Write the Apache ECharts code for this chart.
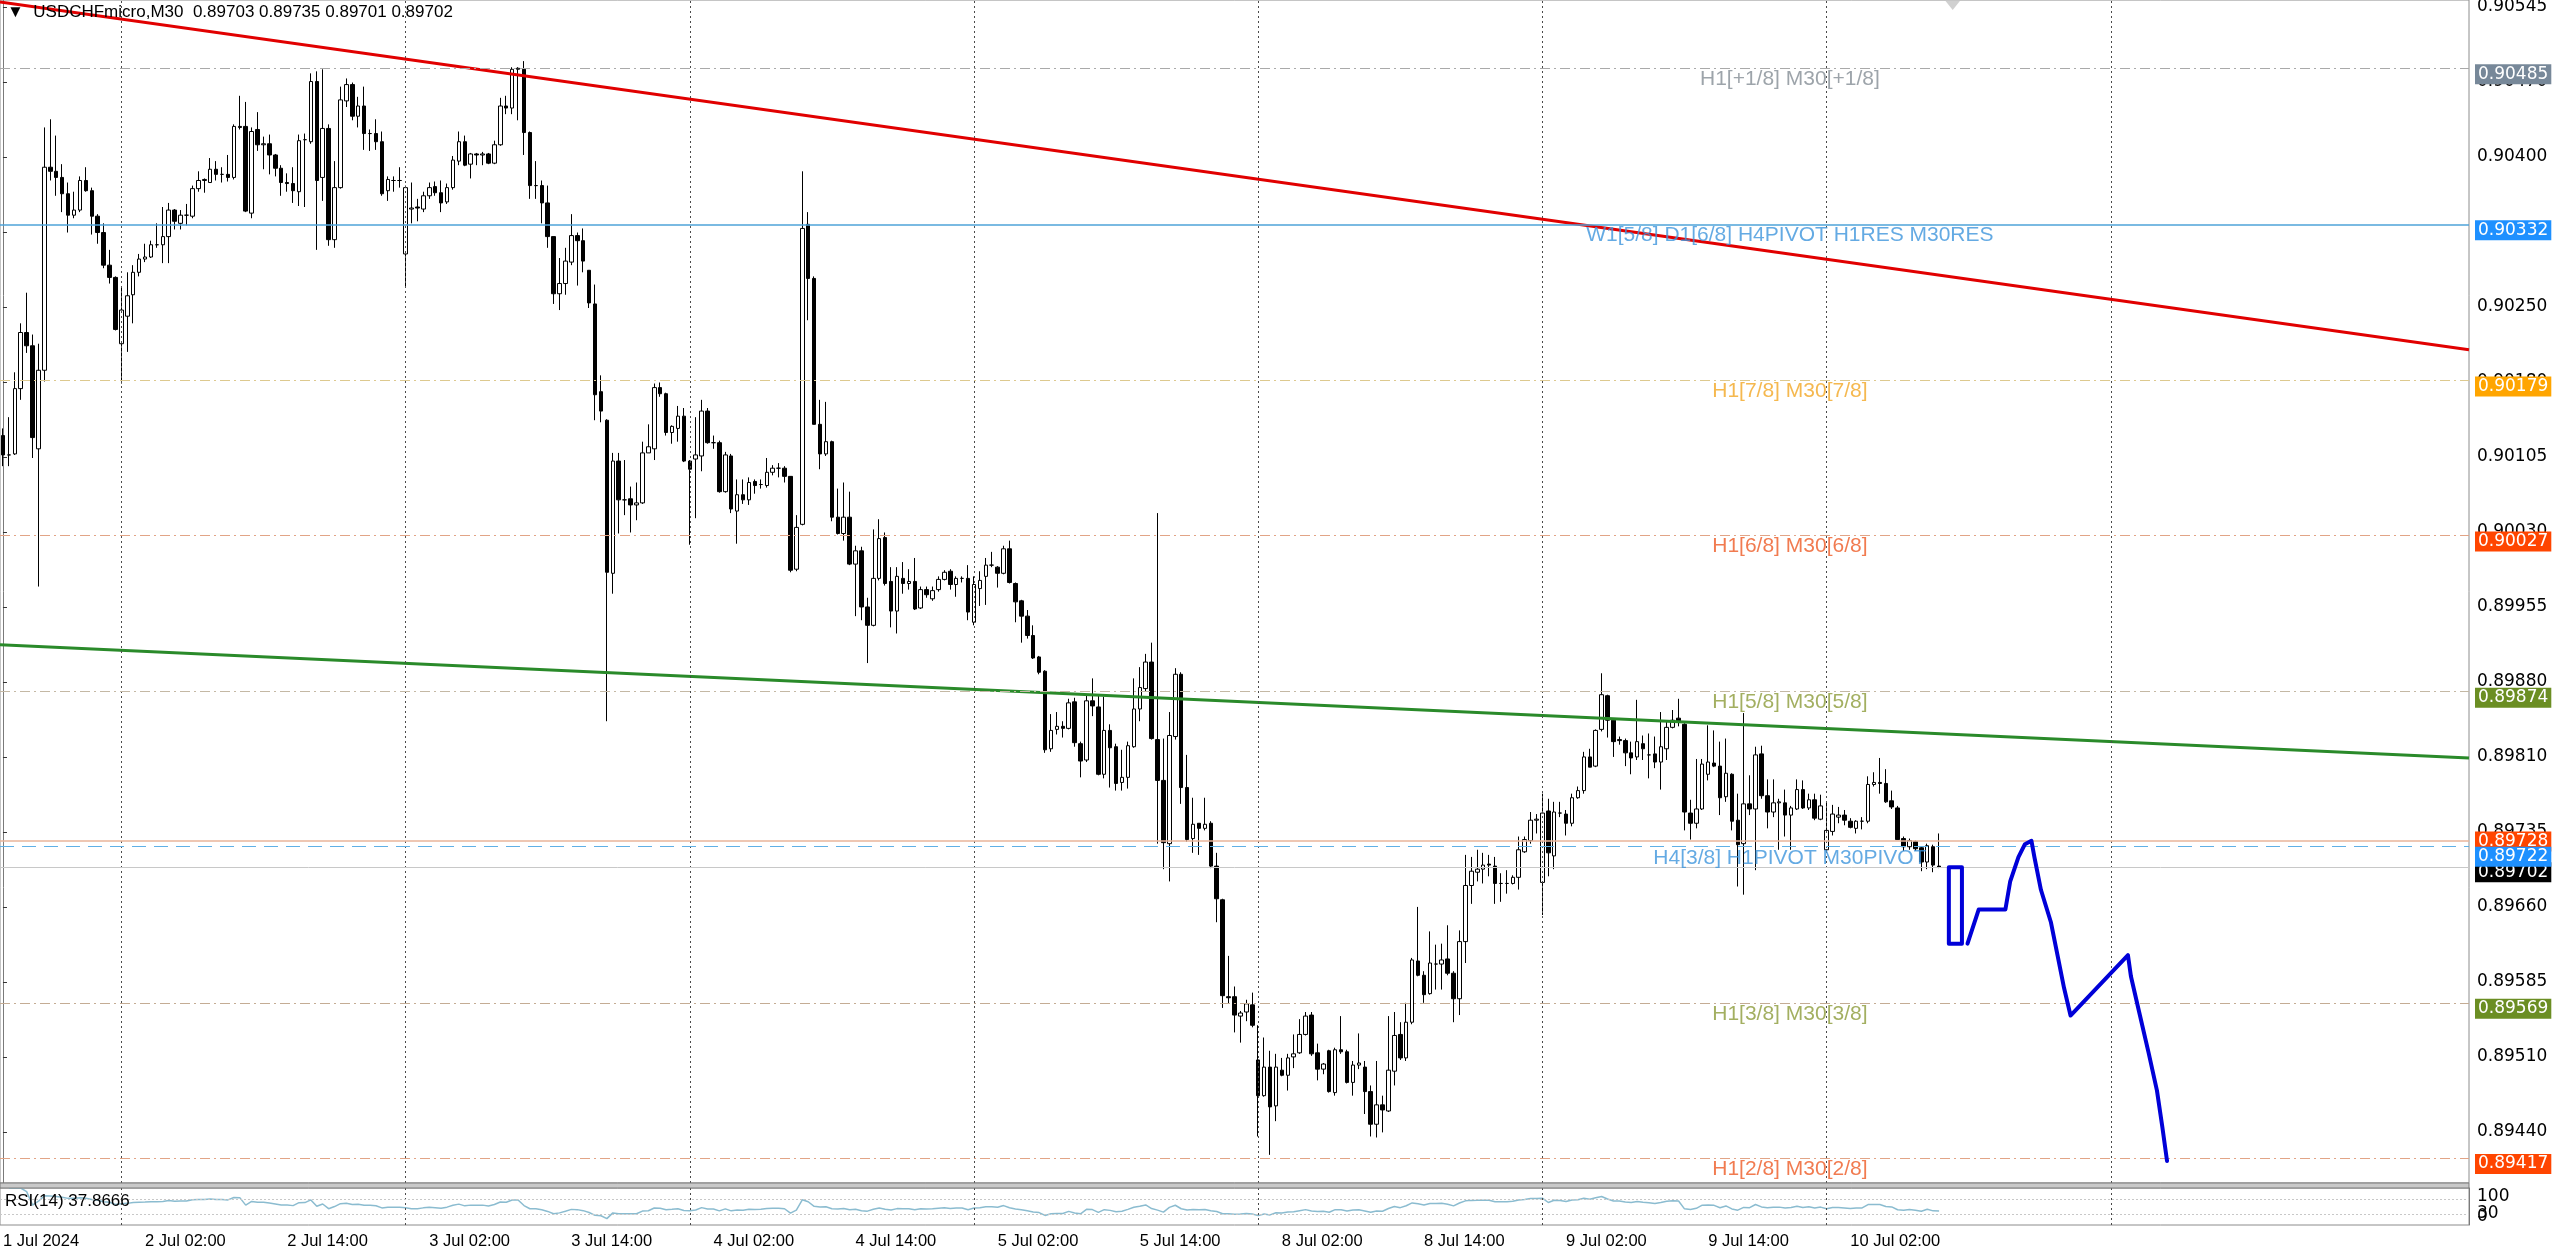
<!DOCTYPE html>
<html>
<head>
<meta charset="utf-8">
<title>USDCHFmicro,M30</title>
<script src="https://cdn.jsdelivr.net/npm/echarts@6/dist/echarts.min.js"></script>
<style>
html, body { margin: 0; padding: 0; background: #ffffff; }
#chart { width: 2560px; height: 1251px; }
</style>
</head>
<body>
<div id="chart"></div>
<script>
// prices are kept as points above 0.89000 (1 point = 0.00001), one entry per M30 bar from 1 Jul 14:00
const base = 0.89;
const opens = [
  1125,1106,1107,1171,1226,1213,1112,1189,1388,1384,
  1378,1362,1341,1346,1375,1365,1340,1324,1292,1280,
  1215,1242,1263,1285,1298,1300,1312,1312,1320,1346,
  1333,1341,1340,1367,1375,1373,1386,1381,1381,1378,
  1428,1428,1343,1425,1410,1411,1400,1387,1373,1372,
  1364,1415,1413,1472,1378,1426,1317,1368,1453,1469,
  1438,1448,1421,1421,1413,1365,1375,1375,1303,1347,
  1349,1347,1360,1369,1363,1354,1368,1394,1413,1391,
  1401,1400,1401,1392,1410,1448,1446,1484,1484,1422,
  1370,1370,1353,1320,1264,1274,1295,1321,1316,1287,
  1254,1168,1140,990,1100,1062,1063,1057,1059,1108,
  1112,1172,1166,1128,1132,1144,1100,1102,1105,1149,
  1118,1118,1070,1105,1051,1067,1062,1080,1077,1076,
  1089,1093,1093,1085,994,1038,1332,1279,1136,1107,
  1119,1045,1029,1045,999,1012,957,939,985,1025,
  982,953,985,980,982,956,974,965,974,984,
  992,979,985,985,942,975,987,998,996,990,
  1014,980,963,948,929,908,894,818,837,840,
  838,864,823,807,865,859,793,836,820,785,
  790,820,857,877,903,827,787,725,830,891,
  780,730,745,740,745,703,670,575,575,556,
  560,567,513,478,506,468,503,498,516,520,
  538,557,520,504,522,481,523,521,491,508,
  506,482,450,469,463,502,538,515,550,610,
  596,578,607,607,612,598,573,629,684,697,
  700,705,703,686,686,686,692,717,728,748,
  687,757,713,755,754,745,770,777,810,801,
  837,870,846,827,826,814,810,823,812,813,
  805,818,839,848,842,755,745,759,793,804,
  801,771,793,748,725,764,759,813,772,756,
  765,765,753,759,778,760,768,749,719,737,
  751,753,747,740,747,747,783,785,784,767,
  760,730,722,727,721,707,722,703
];
const closes = [
  1106,1106,1171,1226,1213,1123,1189,1388,1384,1378,
  1362,1341,1346,1375,1365,1340,1324,1292,1280,1229,
  1248,1262,1285,1298,1300,1312,1312,1320,1346,1335,
  1341,1341,1367,1375,1376,1386,1381,1381,1378,1428,
  1427,1345,1423,1410,1411,1400,1387,1373,1372,1365,
  1414,1415,1472,1375,1426,1317,1368,1454,1469,1438,
  1448,1421,1421,1413,1362,1376,1375,1375,1368,1348,
  1348,1360,1368,1363,1353,1368,1395,1413,1390,1401,
  1400,1401,1392,1410,1448,1446,1484,1485,1422,1370,
  1370,1353,1320,1264,1274,1296,1321,1316,1296,1255,
  1165,1149,991,1100,1062,1062,1057,1059,1108,1114,
  1172,1166,1128,1134,1144,1100,1092,1106,1149,1118,
  1118,1070,1106,1053,1067,1062,1079,1076,1077,1089,
  1093,1093,1085,993,1035,1328,1279,1136,1107,1119,
  1045,1029,1045,999,1012,957,939,985,1024,980,
  953,987,980,982,955,974,969,973,984,991,
  979,985,985,952,979,983,998,998,990,1014,
  981,962,948,929,907,893,817,836,840,838,
  863,824,806,865,860,793,836,819,784,790,
  821,857,878,903,828,787,726,831,891,780,
  729,744,740,744,703,671,576,574,557,559,
  568,547,478,506,467,506,498,515,519,538,
  556,519,504,509,482,523,521,491,508,510,
  482,450,469,464,503,537,515,550,611,596,
  577,608,607,611,598,573,629,684,698,700,
  704,704,686,686,686,692,719,729,748,749,
  755,716,756,755,745,770,777,810,800,836,
  871,846,825,826,814,809,825,818,812,805,
  820,839,846,844,756,745,759,803,805,801,
  770,794,747,724,764,759,812,772,756,765,
  766,753,760,778,760,768,750,762,738,754,
  753,748,741,747,747,783,785,784,766,761,
  729,722,728,720,707,723,704,702
];
const lows = [
  1095,1095,1106,1160,1206,1103,977,1178,1375,1360,
  1344,1324,1338,1344,1364,1322,1313,1289,1274,1228,
  1176,1207,1235,1281,1295,1299,1309,1294,1294,1327,
  1327,1331,1338,1364,1363,1373,1375,1373,1374,1376,
  1425,1344,1338,1404,1386,1381,1379,1360,1364,1353,
  1350,1349,1411,1307,1355,1311,1309,1367,1447,1434,
  1427,1405,1404,1405,1360,1355,1364,1368,1271,1333,
  1335,1344,1357,1360,1344,1352,1366,1390,1389,1377,
  1390,1390,1391,1391,1409,1440,1440,1434,1400,1357,
  1357,1333,1309,1254,1248,1263,1292,1272,1285,1250,
  1140,1138,845,970,1029,1047,1030,1042,1058,1108,
  1101,1163,1125,1117,1119,1099,1018,1044,1090,1117,
  1112,1069,1069,1049,1019,1058,1057,1068,1073,1074,
  1086,1084,1079,991,992,1037,1238,1136,1092,1105,
  1041,1028,1022,998,948,944,902,938,983,978,
  937,931,970,974,954,955,966,963,972,983,
  974,967,981,944,939,958,959,996,976,989,
  980,942,922,926,906,891,814,815,832,829,
  837,820,790,805,850,792,789,780,777,777,
  779,819,845,874,827,725,700,688,827,764,
  727,716,714,738,701,648,564,568,540,530,
  551,545,438,477,420,453,497,483,505,519,
  537,517,493,499,481,478,519,490,478,504,
  460,438,437,442,462,488,513,512,548,595,
  569,577,582,582,596,550,557,608,666,688,
  686,693,666,668,676,685,680,716,725,735,
  655,693,700,751,733,742,769,774,800,800,
  835,829,810,822,801,793,807,807,789,799,
  778,807,838,840,738,729,740,758,787,800,
  753,766,738,683,675,753,699,769,740,751,
  719,732,719,758,759,758,748,748,718,733,
  745,743,740,735,739,745,781,774,765,759,
  729,718,719,718,698,700,697,701
];
const highs = [
  1132,1143,1187,1235,1265,1224,1215,1427,1435,1419,
  1391,1373,1364,1379,1388,1368,1342,1333,1307,1281,
  1270,1285,1292,1303,1313,1316,1333,1349,1353,1347,
  1346,1352,1370,1384,1377,1397,1394,1388,1400,1430,
  1458,1452,1427,1442,1418,1420,1401,1390,1382,1388,
  1420,1421,1480,1482,1484,1430,1394,1467,1475,1471,
  1457,1467,1425,1435,1423,1379,1379,1388,1370,1373,
  1357,1364,1373,1374,1375,1372,1399,1423,1419,1402,
  1402,1403,1402,1414,1456,1458,1486,1486,1492,1423,
  1394,1375,1370,1320,1299,1309,1342,1324,1328,1287,
  1273,1184,1141,1108,1108,1101,1075,1079,1119,1136,
  1176,1177,1167,1135,1154,1152,1101,1143,1160,1152,
  1125,1120,1109,1107,1082,1082,1084,1082,1082,1103,
  1096,1098,1095,1085,1047,1384,1344,1281,1160,1158,
  1120,1073,1079,1070,1017,1016,966,1033,1043,1030,
  996,996,1001,994,1005,977,977,977,987,993,
  994,987,987,998,987,992,1005,1011,997,1017,
  1022,981,964,954,939,909,895,852,854,845,
  867,868,825,871,887,871,869,842,823,817,
  825,887,898,911,922,1049,828,854,897,893,
  812,770,745,770,747,716,671,615,585,561,
  572,579,547,535,522,519,515,519,538,553,
  560,560,529,510,523,525,556,523,512,539,
  512,488,512,478,556,560,550,569,613,663,
  600,639,626,627,645,600,640,714,712,719,
  716,714,712,696,699,694,732,732,756,754,
  774,769,766,766,758,774,781,815,818,837,
  892,871,848,830,828,825,866,831,833,830,
  854,846,856,867,843,768,808,808,841,836,
  825,828,794,774,853,792,820,821,788,788,
  769,778,762,788,787,774,774,773,765,763,
  761,758,750,748,751,791,795,809,798,777,
  762,732,730,728,722,725,724,735
];
const futureBars = 89;

// time axis
const timeLabels = [
  [0, '1 Jul 2024'], [24, '2 Jul 02:00'], [48, '2 Jul 14:00'], [72, '3 Jul 02:00'],
  [96, '3 Jul 14:00'], [120, '4 Jul 02:00'], [144, '4 Jul 14:00'], [168, '5 Jul 02:00'],
  [192, '5 Jul 14:00'], [216, '8 Jul 02:00'], [240, '8 Jul 14:00'], [264, '9 Jul 02:00'],
  [288, '9 Jul 14:00'], [312, '10 Jul 02:00']
];
const dayStarts = [20, 68, 116, 164, 212, 260, 308, 356];

// price axis
const priceTop = 0.905519;
const priceBottom = 0.893924;
const priceTicks = [0.90545, 0.904715, 0.90398, 0.903245, 0.90251, 0.901775, 0.90104, 0.900305,
  0.89957, 0.898835, 0.8981, 0.897365, 0.89663, 0.895895, 0.89516, 0.894425];
const priceTickText = ['0.90545', '0.90470', '0.90400', '0.90325', '0.90250', '0.90180', '0.90105', '0.90030',
  '0.89955', '0.89880', '0.89810', '0.89735', '0.89660', '0.89585', '0.89510', '0.89440'];
const rsiLevels = [30, 70];
const rsiTop = 100;
const rsiBottom = 0;

// murrey / pivot levels
const levelValues = [0.90485, 0.90332, 0.90179, 0.90027, 0.89874, 0.89728, 0.89702, 0.89722, 0.89569, 0.89417];
const levelTexts = ['H1[+1/8] M30[+1/8]', 'W1[5/8] D1[6/8] H4PIVOT H1RES M30RES', 'H1[7/8] M30[7/8]',
  'H1[6/8] M30[6/8]', 'H1[5/8] M30[5/8]', '', '', 'H4[3/8] H1PIVOT M30PIVOT', 'H1[3/8] M30[3/8]', 'H1[2/8] M30[2/8]'];

// drawn objects, [bar, price]
const redTrend = [[-0.5, 0.90550], [416.5, 0.90209]];
const greenTrend = [[-0.5, 0.89920], [416.5, 0.89809]];
const forecastBox = [[328.65, 0.89702], [328.65, 0.89627], [330.86, 0.89627], [330.86, 0.89702], [328.65, 0.89702]];
const forecastPath = [[331.8, 0.89627], [333.7, 0.896605], [338.2, 0.896605], [339.0, 0.896877], [340.4, 0.897117],
  [341.5, 0.897245], [342.6, 0.897278], [343.1, 0.897117], [344.2, 0.896798], [345.9, 0.896477], [347.0, 0.896157],
  [348.1, 0.895837], [349.2, 0.895565], [358.9, 0.896157], [359.4, 0.89595], [360.8, 0.895597], [362.4, 0.895197],
  [363.8, 0.894829], [364.7, 0.894476], [365.5, 0.89414]];
const rsiText = 'RSI(14) 37.8666';

const sans = 'Liberation Sans, Arial, sans-serif';
const axisFont = 'DejaVu Sans, Verdana, sans-serif';
const px = (p) => +(base + p / 100000).toFixed(5);

const dashDot = [10, 4, 2, 4];
const levelStyle = [
  { line: '#a9a9a9', type: dashDot, width: 1, box: '#778899', text: '#858d95', shift: 6 },
  { line: '#4ea3d8', type: 'solid', width: 1.5, box: '#1e90ff', text: '#3d95dc', shift: 6 },
  { line: '#ddc98f', type: dashDot, width: 1, box: '#ffa500', text: '#f3a623', shift: 6 },
  { line: '#e2a486', type: dashDot, width: 1, box: '#ff4500', text: '#ee5a24', shift: 6 },
  { line: '#c4b8a4', type: dashDot, width: 1, box: '#6b8e23', text: '#8c9b3a', shift: 6 },
  { line: '#e8b49a', type: 'solid', width: 1.5, box: '#ff4500', text: '#ee5a24', shift: 1 },
  { line: '#c8c8c8', type: 'solid', width: 1, box: '#000000', text: '#000000', shift: 5 },
  { line: '#5fb0e6', type: [14, 8], width: 1, box: '#1e90ff', text: '#3d95dc', shift: 10 },
  { line: '#c4ac94', type: dashDot, width: 1, box: '#6b8e23', text: '#8c9b3a', shift: 6 },
  { line: '#e2a486', type: dashDot, width: 1, box: '#ff4500', text: '#ee5a24', shift: 6 }
];

function rsiOf(cl, n) {
  const out = [null];
  let ag = 0, al = 0, g = 0, l = 0;
  for (let i = 1; i < cl.length; i++) {
    const d = cl[i] - cl[i - 1];
    const up = Math.max(d, 0), dn = Math.max(-d, 0);
    if (i <= n) { g += up; l += dn; ag = g / i; al = l / i; }
    else { ag = (ag * (n - 1) + up) / n; al = (al * (n - 1) + dn) / n; }
    out.push(al === 0 ? 100 : +(100 - 100 / (1 + ag / al)).toFixed(2));
  }
  return out;
}

const total = opens.length + futureBars;
const cats = Array.from({ length: total }, (_, i) => String(i));
const candles = opens.map((o, i) => [px(o), px(closes[i]), px(lows[i]), px(highs[i])]);
const rsi = rsiOf(closes, 14);
const labelMap = new Map(timeLabels);
const last = opens.length - 1;
const ohlcText = [opens[last], highs[last], lows[last], closes[last]].map(v => px(v).toFixed(5)).join(' ');

// the terminal squeezes the 100 / 0 labels inside the small panel, so each gets its own axis
function rsiAxis(values, vAlign, withLine) {
  return {
    type: 'value', gridIndex: 1, position: 'right', offset: 0, min: rsiBottom, max: rsiTop,
    splitLine: { show: false }, axisTick: { show: false },
    axisLine: { show: withLine, lineStyle: { color: '#7a7a7a' } },
    axisLabel: {
      customValues: values, showMinLabel: true, showMaxLabel: true, hideOverlap: false,
      verticalAlign: vAlign, margin: 8, fontFamily: axisFont, fontSize: 17, color: '#000'
    }
  };
}

const chart = echarts.init(document.getElementById('chart'));

chart.setOption({
  animation: false,
  backgroundColor: '#ffffff',
  title: [
    {
      text: '▼  USDCHFmicro,M30  ' + ohlcText, left: 7, top: 4, padding: 0,
      textStyle: { fontFamily: sans, fontSize: 17, fontWeight: 'normal', color: '#000' }
    },
    {
      text: rsiText, left: 5, top: 1193, padding: 0,
      textStyle: { fontFamily: sans, fontSize: 17, fontWeight: 'normal', color: '#000' }
    }
  ],
  graphic: [
    { type: 'rect', shape: { x: 0, y: 1183, width: 2469, height: 5 }, style: { fill: '#c9c9c9', stroke: '#7a7a7a', lineWidth: 1 }, silent: true, z: 10 }
  ],
  grid: [
    { left: 0, top: 0, width: 2469, height: 1183, show: true, borderColor: '#8c8c8c', borderWidth: 1, backgroundColor: '#fff', outerBoundsMode: 'none' },
    { left: 0, top: 1188, width: 2469, height: 37, show: true, borderColor: '#8c8c8c', borderWidth: 1, backgroundColor: '#fff', outerBoundsMode: 'none' }
  ],
  xAxis: [
    { type: 'category', gridIndex: 0, data: cats, boundaryGap: true, show: false },
    { type: 'value', gridIndex: 0, min: -0.5, max: total - 0.5, show: false },
    {
      type: 'category', gridIndex: 1, data: cats, boundaryGap: true,
      axisLine: { show: false }, axisTick: { show: false }, splitLine: { show: false },
      axisLabel: {
        interval: (i) => labelMap.has(i),
        formatter: (v, i) => labelMap.get(i) || '',
        align: 'left', margin: 8, fontFamily: sans, fontSize: 16.5, color: '#000'
      }
    }
  ],
  yAxis: [
    {
      type: 'value', gridIndex: 0, position: 'right', min: priceBottom, max: priceTop,
      splitLine: { show: false },
      axisLine: { show: true, lineStyle: { color: '#7a7a7a' } },
      axisTick: { show: true, customValues: priceTicks, length: 4, lineStyle: { color: '#333' } },
      axisLabel: {
        customValues: priceTicks,
        formatter: (v) => {
          let k = 0;
          priceTicks.forEach((t, i) => { if (Math.abs(t - v) < Math.abs(priceTicks[k] - v)) k = i; });
          return priceTickText[k];
        },
        margin: 8, fontFamily: axisFont, fontSize: 17, color: '#000'
      }
    },
    rsiAxis(rsiLevels, 'middle', true),
    rsiAxis([rsiTop], 'top', false),
    rsiAxis([rsiBottom], 'bottom', false)
  ],
  series: [
    {
      name: 'days', type: 'line', xAxisIndex: 1, yAxisIndex: 0, data: [], z: 1, silent: true,
      markLine: {
        silent: true, symbol: 'none', animation: false, label: { show: false },
        lineStyle: { color: '#4a4a4a', type: [2, 3], width: 1 },
        data: dayStarts.map(d => ({ xAxis: d }))
      }
    },
    {
      name: 'levels', type: 'line', xAxisIndex: 1, yAxisIndex: 0, data: [], z: 2, silent: true,
      markLine: {
        silent: true, symbol: 'none', animation: false, precision: 5,
        data: levelValues.map((v, i) => ({
          yAxis: v,
          lineStyle: { color: levelStyle[i].line, type: levelStyle[i].type, width: levelStyle[i].width },
          label: {
            show: true, position: 'end', distance: 6, formatter: v.toFixed(5), offset: [0, levelStyle[i].shift],
            color: '#fff', backgroundColor: levelStyle[i].box, padding: [2, 3, 1, 3],
            fontFamily: axisFont, fontSize: 17
          }
        }))
      }
    },
    {
      name: 'USDCHFmicro', type: 'candlestick', xAxisIndex: 0, yAxisIndex: 0, data: candles, z: 3,
      barWidth: 4,
      itemStyle: { color: '#ffffff', color0: '#000000', borderColor: '#000000', borderColor0: '#000000', borderWidth: 1 }
    },
    {
      name: 'resistance', type: 'line', xAxisIndex: 1, yAxisIndex: 0, data: redTrend, z: 4,
      symbol: 'none', silent: true, lineStyle: { color: '#e10000', width: 3 }
    },
    {
      name: 'support', type: 'line', xAxisIndex: 1, yAxisIndex: 0, data: greenTrend, z: 4,
      symbol: 'none', silent: true, lineStyle: { color: '#2a8a2a', width: 3 }
    },
    {
      name: 'levelText', type: 'scatter', xAxisIndex: 1, yAxisIndex: 0, z: 5, silent: true,
      symbolSize: 1, itemStyle: { color: 'rgba(0,0,0,0)' },
      data: levelTexts.map((t, i) => ({ value: [301.8, levelValues[i]], name: t }))
        .filter(d => d.name)
        .map(d => ({
          value: d.value, name: d.name,
          label: { color: levelStyle[levelValues.indexOf(d.value[1])].text }
        })),
      label: {
        show: true, position: 'inside', offset: [0, 11], formatter: (p) => p.name,
        fontFamily: sans, fontSize: 21
      }
    },
    {
      name: 'forecastBox', type: 'line', xAxisIndex: 1, yAxisIndex: 0, data: forecastBox, z: 6,
      symbol: 'none', silent: true, lineStyle: { color: '#0000d8', width: 4, cap: 'round', join: 'round' }
    },
    {
      name: 'forecast', type: 'line', xAxisIndex: 1, yAxisIndex: 0, data: forecastPath, z: 6,
      symbol: 'none', silent: true, lineStyle: { color: '#0000d8', width: 4, cap: 'round', join: 'round' }
    },
    {
      name: 'shift', type: 'scatter', xAxisIndex: 1, yAxisIndex: 0, data: [[329.3, priceTop]], z: 7,
      symbol: 'triangle', symbolRotate: 180, symbolSize: [16, 10], symbolOffset: [0, 5], silent: true,
      itemStyle: { color: '#c4c4c4' }, clip: false
    },
    {
      name: 'RSI(14)', type: 'line', xAxisIndex: 2, yAxisIndex: 1, data: rsi, z: 3,
      symbol: 'none', silent: true, lineStyle: { color: '#8bbcd0', width: 1.5 },
      markLine: {
        silent: true, symbol: 'none', animation: false, label: { show: false },
        data: [
          ...dayStarts.map(d => ({ xAxis: d, lineStyle: { color: '#4a4a4a', type: [2, 3], width: 1 } })),
          ...rsiLevels.map(v => ({ yAxis: v, lineStyle: { color: '#c8c8c8', type: [2, 2], width: 1 } }))
        ]
      }
    }
  ]
});
</script>
</body>
</html>
